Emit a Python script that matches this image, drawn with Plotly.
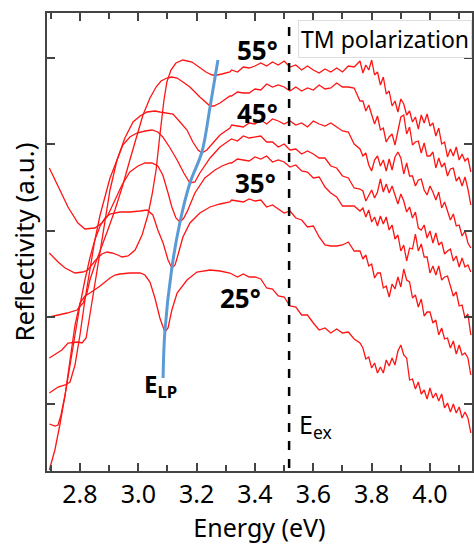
import plotly.graph_objects as go

# ---------------- data (energy in eV, reflectivity in arbitrary units) ----------------
# shared energy grid for the high-energy part of every spectrum
E_R = [3.32,3.34,3.36,3.38,3.40,3.42,3.44,3.46,3.48,3.50,3.52,3.54,3.56,3.58,3.60,3.62,3.64,3.66,3.68,3.70,3.72,3.74,3.76,
       3.77,3.78,3.79,3.80,3.81,3.82,3.83,3.84,3.85,3.86,3.87,3.88,3.89,3.90,3.91,3.92,3.93,3.94,3.95,3.96,3.97,3.98,3.99,
       4.00,4.01,4.02,4.03,4.04,4.05,4.06,4.07,4.08,4.09,4.10,4.11,4.12,4.13,4.14]

# 25 deg
e25_low = [2.695,2.714,2.731,2.749,2.766,2.783,2.800,2.817,2.834,2.851,2.869,2.886,2.903,2.920,2.937,2.971,3.006,3.023,3.040,3.057,3.074,3.091,3.102,3.115,3.133,3.167,3.201,3.246,3.280,3.314]
r25_low = [1,21,46,76,111,146,168,175,178,181,185,189,193,196,197,198,198,196,189,173,153,139,143,161,178,191,199,201,200,198]
r25_high = [197,194,197,194,194,192,183,182,175,174,165,164,156,156,148,141,143,138,142,138,139,132,128,
            123,112,114,103,108,98,104,98,111,105,113,106,120,126,116,113,91,92,82,89,77,81,72,83,73,78,70,77,63,68,59,67,58,64,53,59,53,38]

# 30 deg
e30_low = [2.695,2.714,2.725,2.735,2.749,2.766,2.783,2.800,2.817,2.834,2.851,2.869,2.886,2.903,2.937,2.971,3.006,3.030,3.050,3.067,3.085,3.102,3.115,3.126,3.136,3.153,3.177,3.211,3.246,3.280,3.314]
r30_low = [47,45,46,56,76,106,136,166,191,213,231,245,253,257,259,259,260,261,256,241,228,211,203,206,216,234,248,258,264,267,269]
r30_high = [271,270,269,272,270,271,264,266,262,258,260,253,251,244,245,234,226,225,225,226,229,220,220,
            212,216,205,207,193,198,198,183,185,174,187,182,194,184,202,191,189,173,176,164,172,155,159,159,148,151,136,143,132,133,123,130,117,126,116,118,113,96]

# 35 deg
e35_low = [2.695,2.725,2.759,2.793,2.817,2.851,2.875,2.893,2.920,2.944,2.971,2.999,3.023,3.047,3.067,3.084,3.102,3.115,3.129,3.143,3.156,3.170,3.194,3.228,3.263,3.287,3.314]
r35_low = [303,284,264,248,242,243,248,254,271,286,299,305,308,308,305,296,278,264,253,249,253,261,278,293,301,305,308]
r35_high = [308,312,311,310,314,312,315,309,311,309,304,306,300,299,293,294,284,278,274,265,265,265,260,
            263,254,261,249,254,245,255,247,254,241,246,232,236,220,226,210,223,222,237,220,227,214,214,198,205,196,205,191,194,195,184,175,179,165,166,153,157,136]

# 40 deg
e40_low = [2.695,2.725,2.749,2.766,2.783,2.800,2.817,2.834,2.851,2.869,2.886,2.903,2.927,2.947,2.971,2.995,3.023,3.047,3.067,3.084,3.109,3.133,3.156,3.177,3.194,3.211,3.246,3.280,3.314]
r40_low = [78,84,86,89,106,136,171,203,231,256,276,293,311,326,334,338,340,341,339,334,323,311,298,288,289,298,313,324,331]
r40_high = [332,330,335,333,334,335,329,329,324,327,321,322,317,320,317,313,313,305,303,295,293,283,282,
            280,270,276,281,273,279,292,279,287,278,285,276,267,277,270,259,264,253,259,243,241,246,233,240,228,238,226,229,217,220,222,210,215,204,213,204,206,199]

# 45 deg
e45_low = [2.695,2.738,2.759,2.793,2.807,2.821,2.834,2.851,2.869,2.886,2.903,2.927,2.954,2.982,3.006,3.030,3.057,3.074,3.098,3.119,3.143,3.167,3.187,3.205,3.218,3.235,3.256,3.280,3.314]
r45_low = [113,121,128,129,128,133,156,186,221,251,281,311,333,349,355,359,360,359,358,357,349,341,329,321,318,321,328,336,343]
r45_high = [346,345,344,348,347,351,347,352,350,347,350,346,348,344,350,347,345,348,344,340,339,327,322,
            315,318,306,300,311,315,305,311,300,312,301,314,319,313,297,308,295,295,285,291,292,281,276,285,279,271,279,263,269,260,251,257,245,246,235,240,228,223]

# 50 deg
e50_low = [2.695,2.756,2.790,2.811,2.824,2.834,2.851,2.869,2.893,2.920,2.947,2.971,2.995,3.016,3.040,3.061,3.078,3.098,3.115,3.133,3.153,3.177,3.211,3.232,3.246,3.259,3.280,3.314]
r50_low = [154,158,161,168,178,191,206,221,239,261,286,311,336,356,373,384,390,393,394,393,389,384,374,368,365,365,368,375]
r50_high = [375,379,378,378,382,381,387,384,386,384,380,384,380,383,381,386,382,383,388,384,384,383,370,
            370,360,366,356,347,355,341,343,329,334,337,326,342,354,356,337,344,326,329,330,318,328,315,315,319,303,313,304,308,295,302,303,290,294,285,294,282,266]

# 55 deg
e55_low = [2.695,2.725,2.749,2.783,2.810,2.827,2.851,2.875,2.893,2.910,2.930,2.944,2.965,2.989,3.013,3.033,3.047,3.061,3.074,3.088,3.098,3.112,3.129,3.153,3.184,3.211,3.232,3.253,3.270,3.287,3.314]
r55_low = [218,209,203,198,199,201,210,217,219,218,216,214,215,221,236,256,276,301,336,371,389,401,408,411,409,403,399,396,396,397,399]
r55_high = [401,399,404,403,405,408,405,409,406,410,404,406,401,405,401,398,402,399,403,399,405,404,410,
            398,406,401,411,396,399,386,394,377,380,365,370,359,372,367,356,360,349,354,342,356,348,357,345,348,335,343,327,329,314,322,315,324,311,317,310,313,299]

# lower-polariton dip positions (blue guide line)
elp_e = [3.085,3.091,3.115,3.143,3.177,3.218,3.246,3.273]
elp_r = [93,139,203,249,288,319,364,411]

e_ex = 3.517
ytick_vals = [67,154,240,327,413]

curves = [(e25_low, r25_low, r25_high), (e30_low, r30_low, r30_high), (e35_low, r35_low, r35_high),
          (e40_low, r40_low, r40_high), (e45_low, r45_low, r45_high), (e50_low, r50_low, r50_high),
          (e55_low, r55_low, r55_high)]

FONT = "Noto Sans"
fig = go.Figure()
for el, rl, rh in curves:
    fig.add_trace(go.Scatter(x=el + E_R, y=rl + rh, mode="lines",
                             line=dict(color="#ff1414", width=1.3),
                             hoverinfo="skip", showlegend=False))
fig.add_trace(go.Scatter(x=elp_e, y=elp_r, mode="lines",
                         line=dict(color="#5b9bd5", width=3, shape="spline"),
                         hoverinfo="skip", showlegend=False))
fig.add_shape(type="line", x0=e_ex, x1=e_ex, y0=3, y1=449, xref="x", yref="y",
              line=dict(color="black", width=2.5, dash="dash"))

ann = [
    dict(x=3.407, y=421, text="<b>55°</b>", s=26),
    dict(x=3.407, y=358, text="<b>45°</b>", s=26),
    dict(x=3.403, y=288, text="<b>35°</b>", s=26),
    dict(x=3.349, y=173, text="<b>25°</b>", s=26),
    dict(x=3.076, y=86, text="<b>E<sub>LP</sub></b>", s=24),
    dict(x=3.606, y=46, text="E<sub>ex</sub>", s=25),
]
for a in ann:
    fig.add_annotation(x=a["x"], y=a["y"], text=a["text"], showarrow=False,
                       font=dict(family=FONT, size=a["s"], color="black"),
                       xanchor="center", yanchor="middle")
fig.add_annotation(x=1.0, y=0.944, xref="paper", yref="paper", text="TM polarization",
                   showarrow=False, xanchor="right", yanchor="middle",
                   font=dict(family=FONT, size=23, color="black"),
                   bgcolor="white", bordercolor="#dddddd", borderwidth=1, borderpad=2)

fig.update_layout(
    width=474, height=545,
    margin=dict(l=47, r=2, t=13, b=74),
    plot_bgcolor="white", paper_bgcolor="white",
    font=dict(family=FONT, size=24, color="black"),
    xaxis=dict(range=[2.687, 4.144], tickvals=[2.8,3.0,3.2,3.4,3.6,3.8,4.0],
               ticktext=["2.8","3.0","3.2","3.4","3.6","3.8","4.0"],
               ticks="inside", ticklen=8, tickwidth=1.5, tickcolor="#444",
               minor=dict(dtick=0.1, tick0=2.7, ticks="inside", ticklen=6, tickcolor="#444"),
               showline=True, linecolor="#444", linewidth=2, mirror="ticks",
               showgrid=False, zeroline=False, automargin=False,
               tickfont=dict(size=25),
               title=dict(text="Energy (eV)", font=dict(size=25), standoff=0)),
    yaxis=dict(range=[0, 458], tickvals=ytick_vals, showticklabels=False,
               ticks="inside", ticklen=8, tickwidth=1.5, tickcolor="#444",
               showline=True, linecolor="#444", linewidth=2, mirror="ticks",
               showgrid=False, zeroline=False, automargin=False,
               title=dict(text="Reflectivity (a.u.)", font=dict(size=26), standoff=3)),
)
fig.write_html("out.html", config={"displayModeBar": False},
               post_script="document.body.style.margin='0';")
